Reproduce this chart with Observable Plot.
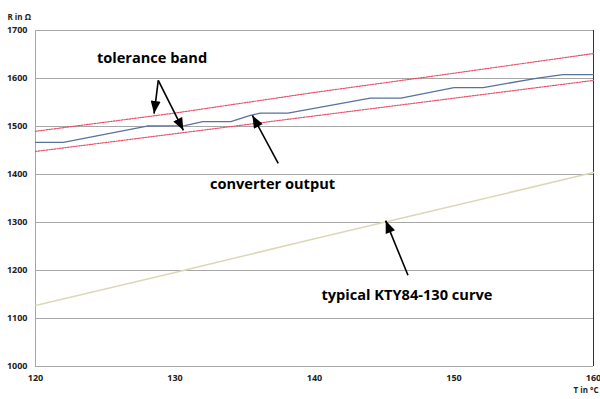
<!DOCTYPE html>
<html>
<head>
<meta charset="utf-8">
<script src="https://cdn.jsdelivr.net/npm/d3@7"></script>
<script src="https://cdn.jsdelivr.net/npm/@observablehq/plot@0.6"></script>
<style>
  html, body { margin: 0; padding: 0; background: #fff; }
  #chart svg { display: block; font-weight: bold; }
</style>
</head>
<body>
<div id="chart"></div>
<script>
// ---- data ----
const xTicks = [120, 130, 140, 150, 160];
const yTicks = [1000, 1100, 1200, 1300, 1400, 1500, 1600, 1700];

// converter output (stepped measurement)
const convT = [120, 122, 128, 130.7, 132, 134, 135.4, 136.1, 138.1, 144, 146.2, 150, 152.1, 156, 157.8, 160];
const convR = [1467, 1467, 1501, 1502, 1510, 1510, 1523, 1528, 1528, 1559, 1559, 1581, 1581, 1601, 1608, 1608];

// tolerance band
const bandT = [120, 130, 140, 150, 160];
const bandUpper = [1490, 1528, 1571, 1611, 1652];
const bandLower = [1448, 1485, 1522, 1559, 1596];

// typical KTY84-130 curve
const ktyT = [120, 130, 140, 150, 160];
const ktyR = [1127, 1196, 1266, 1335, 1404];

// annotations
const labelText = ["tolerance band", "converter output", "typical KTY84-130 curve"];
const labelT = [124.4, 132.5, 140.5];
const labelR = [1642, 1379, 1148];

const arrowT1 = [128.8, 128.8, 137.4, 146.7];
const arrowR1 = [1596, 1596, 1423, 1190];
const arrowT2 = [128.5, 130.6, 135.55, 145.1];
const arrowR2 = [1527, 1492, 1523, 1304];

// ---- tables ----
const conv = convT.map((t, i) => ({t, r: convR[i]}));
const upper = bandT.map((t, i) => ({t, r: bandUpper[i]}));
const lower = bandT.map((t, i) => ({t, r: bandLower[i]}));
const kty = ktyT.map((t, i) => ({t, r: ktyR[i]}));
const labels = labelText.map((s, i) => ({s, t: labelT[i], r: labelR[i]}));
const arrows = arrowT1.map((t, i) => ({t1: t, r1: arrowR1[i], t2: arrowT2[i], r2: arrowR2[i]}));

const svg = Plot.plot({
  width: 600,
  height: 399,
  marginLeft: 35,
  marginRight: 7,
  marginTop: 30,
  marginBottom: 33,
  style: {fontFamily: "'Open Sans', sans-serif", fontSize: "9px", color: "#222"},
  x: {domain: [120, 160], ticks: xTicks, tickSize: 0, tickPadding: 8, tickFormat: "d", label: null},
  y: {domain: [1000, 1700], ticks: yTicks, tickSize: 0, tickPadding: 8, tickFormat: "d", label: null},
  marks: [
    Plot.ruleY(yTicks, {stroke: "#a6a6a6", strokeWidth: 1}),
    Plot.ruleX([120], {stroke: "#a6a6a6", strokeWidth: 1}),
    Plot.ruleX([160], {stroke: "#333", strokeWidth: 1}),
    Plot.line(kty, {x: "t", y: "r", stroke: "#dcd8b6", strokeWidth: 1.5}),
    Plot.line(upper, {x: "t", y: "r", stroke: "#e8506a", strokeWidth: 1.2, strokeDasharray: "1.5,1.2"}),
    Plot.line(lower, {x: "t", y: "r", stroke: "#e8506a", strokeWidth: 1.2, strokeDasharray: "1.5,1.2"}),
    Plot.line(conv, {x: "t", y: "r", stroke: "#56739f", strokeWidth: 1.3}),
    Plot.link(arrows, {x1: "t1", y1: "r1", x2: "t2", y2: "r2", stroke: "#000", strokeWidth: 1.6}),
    Plot.text(labels, {x: "t", y: "r", text: "s", textAnchor: "start", fontSize: 14.6, fontWeight: "bold", fill: "#000"}),
    Plot.text(["R in Ω"], {frameAnchor: "top-left", dx: -28, dy: -16, textAnchor: "start", fontSize: 8, fontWeight: "bold"}),
    Plot.text(["T in °C"], {frameAnchor: "bottom-right", dx: 5, dy: 26, textAnchor: "end", fontSize: 8, fontWeight: "bold"})
  ]
});

// filled arrowheads
const s = d3.select(svg);
const defs = s.insert("defs", ":first-child");
defs.append("marker")
  .attr("id", "ahead")
  .attr("viewBox", "0 0 10 8")
  .attr("refX", 10).attr("refY", 4)
  .attr("markerUnits", "userSpaceOnUse")
  .attr("markerWidth", 13).attr("markerHeight", 10)
  .attr("orient", "auto")
  .append("path").attr("d", "M0,0L10,4L0,8z").attr("fill", "#000");
s.selectAll('g[aria-label="link"] path').attr("marker-end", "url(#ahead)");

document.getElementById("chart").appendChild(svg);
</script>
</body>
</html>
